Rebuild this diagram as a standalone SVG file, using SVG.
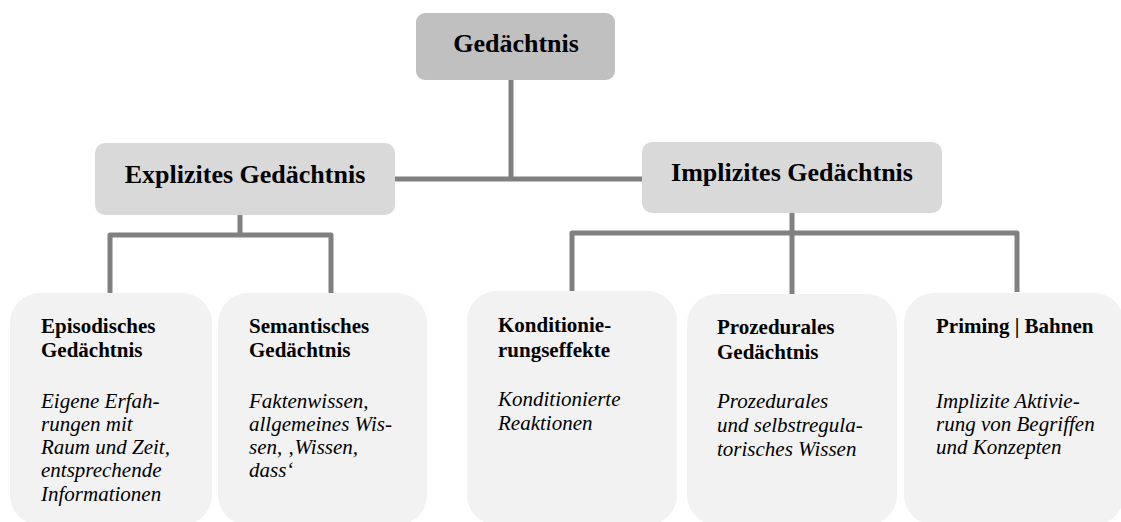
<svg xmlns="http://www.w3.org/2000/svg" width="1121" height="522" viewBox="0 0 1121 522">
  <style>
    .root { fill: #c0c0c0; }
    .mid { fill: #d9d9d9; }
    .leaf { fill: #f2f2f2; }
    .h1 { font-family: "Liberation Serif", "Times New Roman", serif; font-weight: bold; font-size: 26px; fill: #000; text-anchor: middle; }
    .h2 { font-family: "Liberation Serif", "Times New Roman", serif; font-weight: bold; font-size: 21px; fill: #000; }
    .desc { font-family: "Liberation Serif", "Times New Roman", serif; font-style: italic; font-size: 21px; fill: #000; }
    .wire { fill: none; stroke: #808080; stroke-width: 5; stroke-linejoin: round; }
  </style>

  <!-- connectors -->
  <g id="connectors">
    <path class="wire" d="M511,80 V179"/>
    <path class="wire" d="M395,179 H642"/>
    <path class="wire" d="M240,215 V235 M110,293 V235 H331 V293"/>
    <path class="wire" d="M792,213 V294 M572,291 V233 H1017 V292"/>
  </g>

  <!-- top level -->
  <g id="node-gedaechtnis">
    <rect class="root" x="416" y="13" width="199" height="67" rx="9"/>
    <text class="h1" x="516" y="52">Gedächtnis</text>
  </g>

  <!-- second level -->
  <g id="node-explizit">
    <rect class="mid" x="95" y="143" width="300" height="72" rx="10"/>
    <text class="h1" x="245" y="183">Explizites Gedächtnis</text>
  </g>
  <g id="node-implizit">
    <rect class="mid" x="642" y="142" width="300" height="71" rx="10"/>
    <text class="h1" x="792" y="181">Implizites Gedächtnis</text>
  </g>

  <!-- leaves -->
  <g id="node-episodisch">
    <rect class="leaf" x="10" y="293" width="202" height="232" rx="30"/>
    <text class="h2" x="41" y="333">Episodisches</text>
    <text class="h2" x="41" y="357">Gedächtnis</text>
    <text class="desc" x="41" y="408">Eigene Erfah-</text>
    <text class="desc" x="41" y="431">rungen mit</text>
    <text class="desc" x="41" y="454">Raum und Zeit,</text>
    <text class="desc" x="41" y="477">entsprechende</text>
    <text class="desc" x="41" y="501">Informationen</text>
  </g>
  <g id="node-semantisch">
    <rect class="leaf" x="218" y="293" width="209" height="232" rx="30"/>
    <text class="h2" x="249" y="333">Semantisches</text>
    <text class="h2" x="249" y="357">Gedächtnis</text>
    <text class="desc" x="249" y="408">Faktenwissen,</text>
    <text class="desc" x="249" y="431">allgemeines Wis-</text>
    <text class="desc" x="249" y="454">sen, ‚Wissen,</text>
    <text class="desc" x="249" y="477">dass‘</text>
  </g>
  <g id="node-konditionierung">
    <rect class="leaf" x="467" y="291" width="210" height="234" rx="30"/>
    <text class="h2" x="498" y="332">Konditionie-</text>
    <text class="h2" x="498" y="357">rungseffekte</text>
    <text class="desc" x="498" y="406">Konditionierte</text>
    <text class="desc" x="498" y="430">Reaktionen</text>
  </g>
  <g id="node-prozedural">
    <rect class="leaf" x="687" y="294" width="210" height="231" rx="30"/>
    <text class="h2" x="717" y="334">Prozedurales</text>
    <text class="h2" x="717" y="359">Gedächtnis</text>
    <text class="desc" x="717" y="408">Prozedurales</text>
    <text class="desc" x="717" y="432">und selbstregula-</text>
    <text class="desc" x="717" y="456">torisches Wissen</text>
  </g>
  <g id="node-priming">
    <rect class="leaf" x="904" y="293" width="220" height="232" rx="30"/>
    <text class="h2" x="936" y="333">Priming | Bahnen</text>
    <text class="desc" x="936" y="408">Implizite Aktivie-</text>
    <text class="desc" x="936" y="431">rung von Begriffen</text>
    <text class="desc" x="936" y="454">und Konzepten</text>
  </g>
</svg>
